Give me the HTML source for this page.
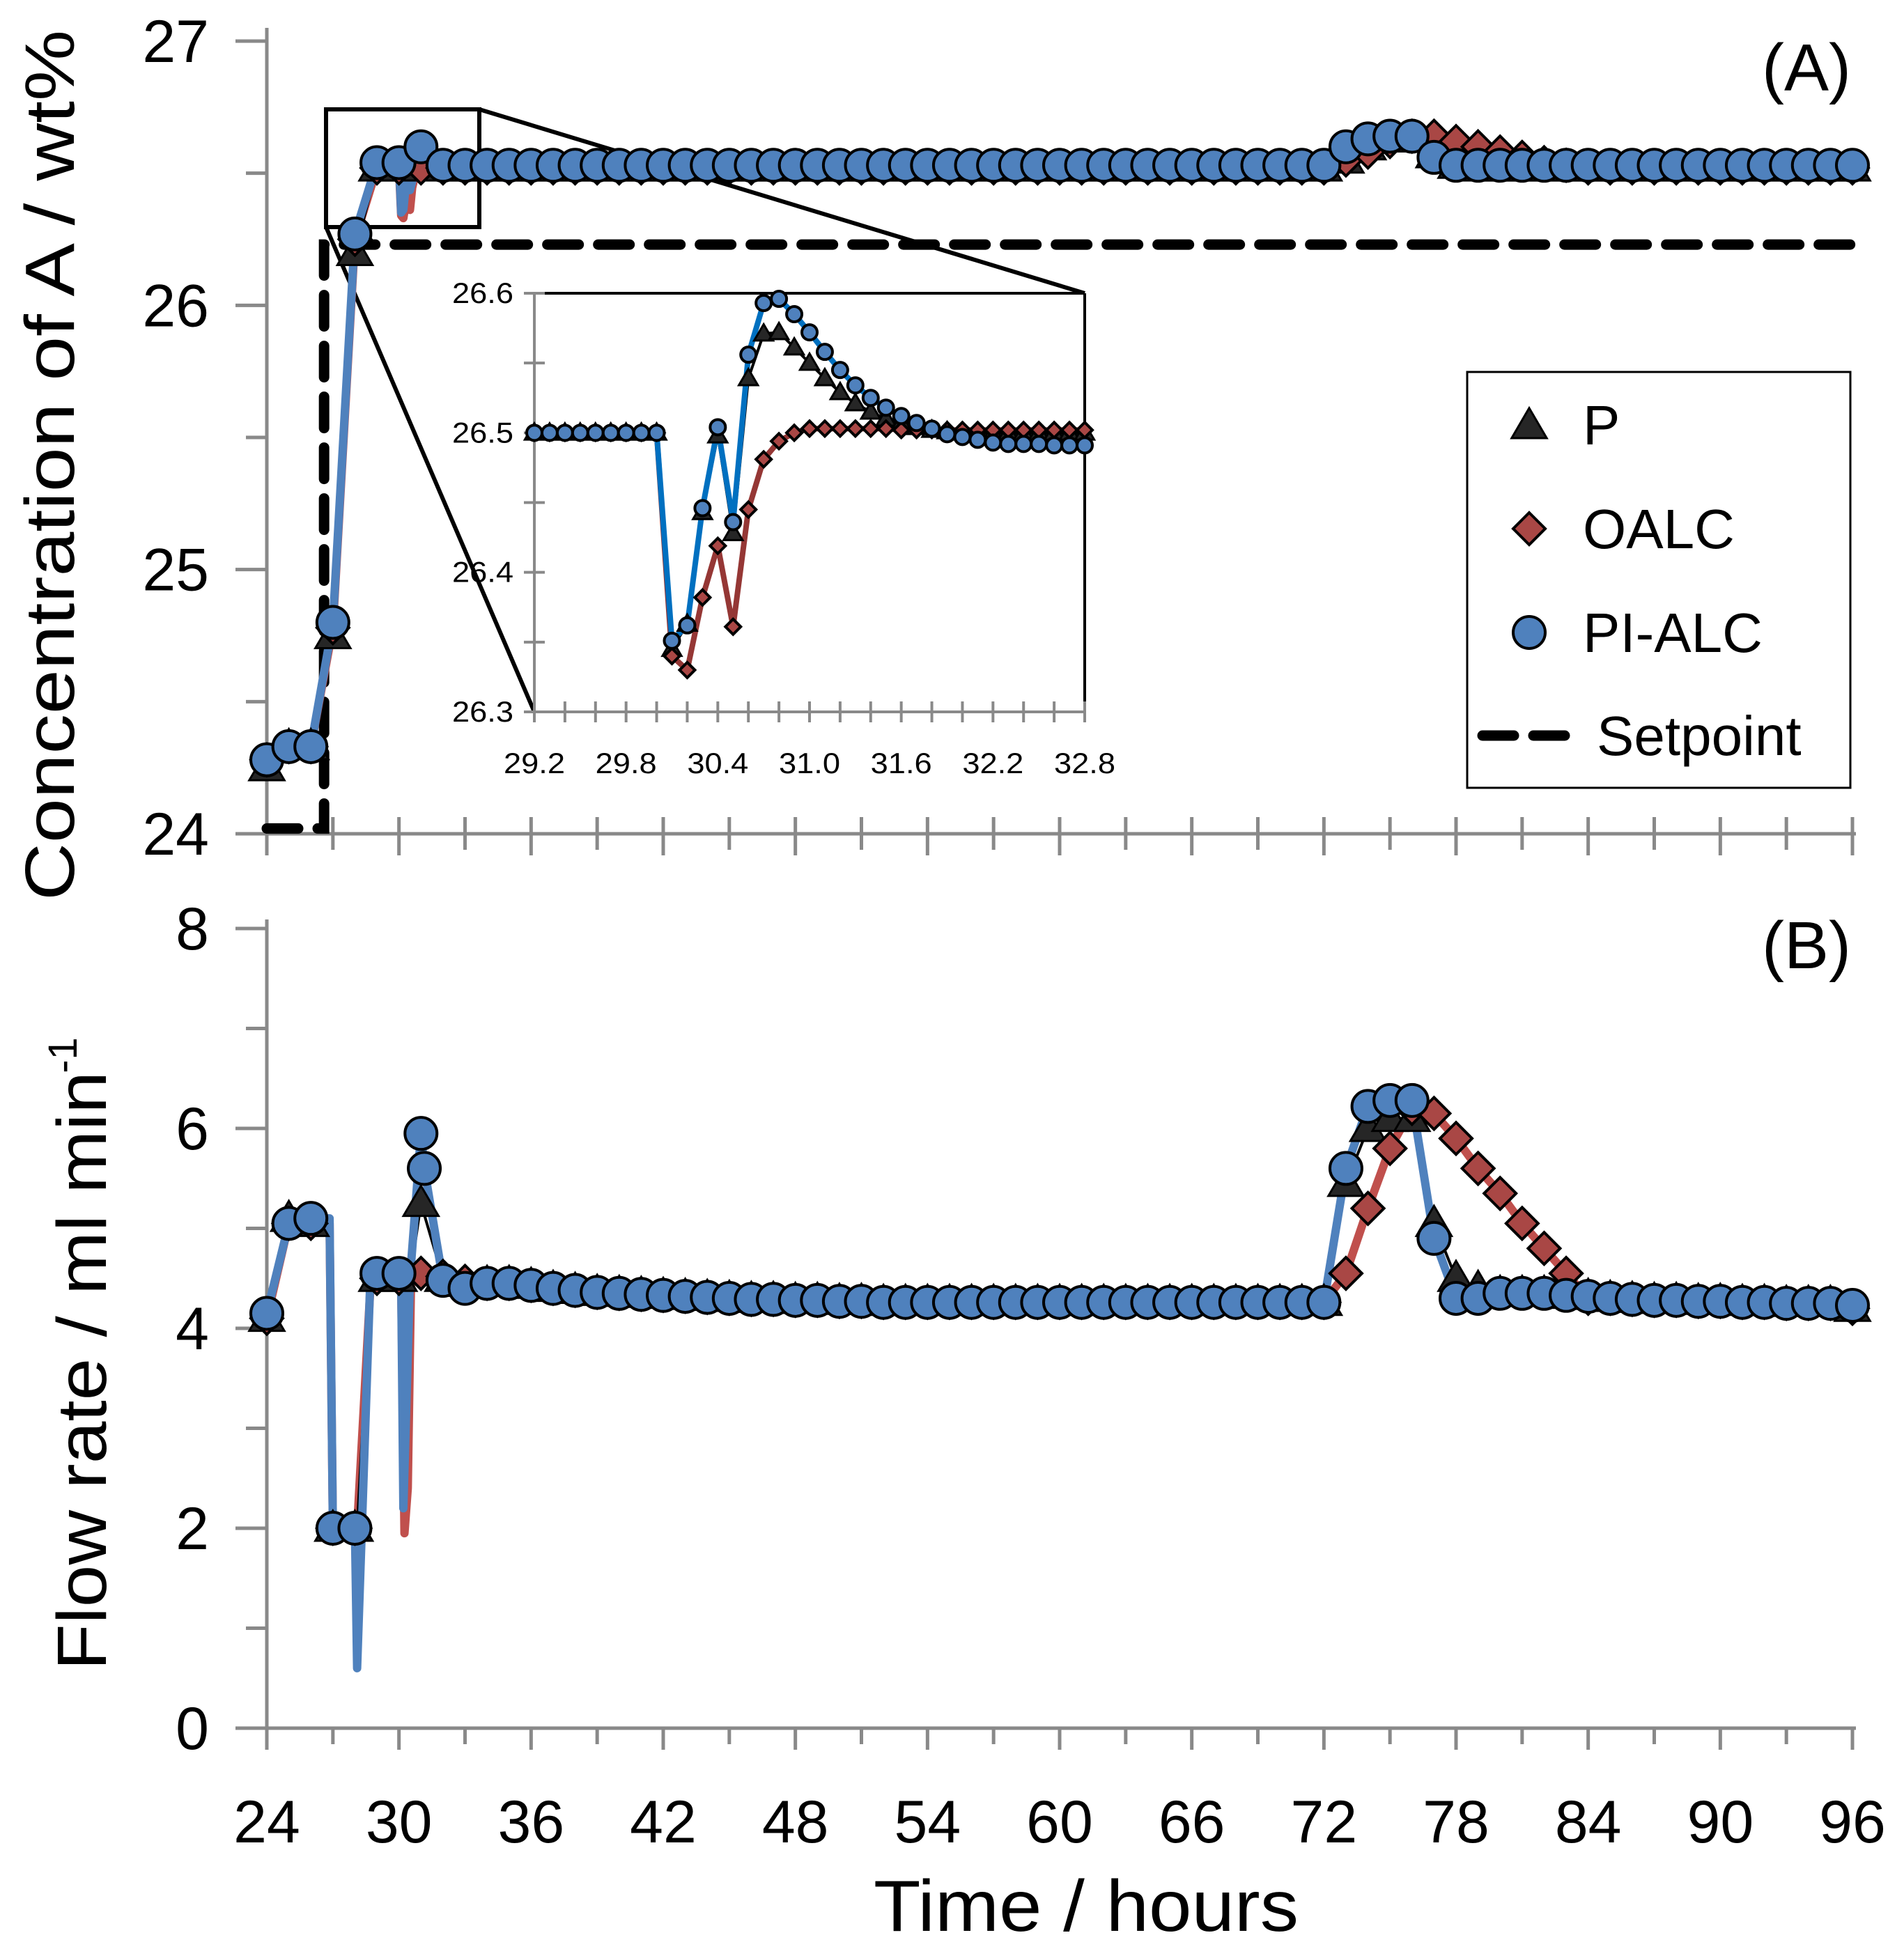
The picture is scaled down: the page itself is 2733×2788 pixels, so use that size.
<!DOCTYPE html>
<html><head><meta charset="utf-8"><style>
html,body{margin:0;padding:0;background:#fff;}
svg{display:block;font-family:"Liberation Sans",sans-serif;}
</style></head><body>
<svg id="chart" width="2733" height="2788" viewBox="0 0 2733 2788" xmlns="http://www.w3.org/2000/svg"></svg>
<script>
// ---------- data ----------
const hours = [];
for (let h = 24; h <= 96; h++) hours.push(h);
const aPI = [24.28,24.33,24.33,24.8,26.27,26.54,26.54,26.6,26.53,
26.53,26.53,26.53,26.53,26.53,26.53,26.53,26.53,26.53,26.53,26.53,26.53,26.53,26.53,26.53,26.53,26.53,26.53,26.53,26.53,
26.53,26.53,26.53,26.53,26.53,26.53,26.53,26.53,26.53,26.53,26.53,26.53,26.53,26.53,26.53,26.53,26.53,26.53,26.53,26.53,
26.6,26.63,26.64,26.64,26.56,26.53,
26.53,26.53,26.53,26.53,26.53,26.53,26.53,26.53,26.53,26.53,26.53,26.53,26.53,26.53,26.53,26.53,26.53,26.53];
const aP = [24.25,24.33,24.33,24.75,26.2,26.52,26.52,26.57,26.52,
26.52,26.52,26.52,26.52,26.52,26.52,26.52,26.52,26.52,26.52,26.52,26.52,26.52,26.52,26.52,26.52,26.52,26.52,26.52,26.52,
26.52,26.52,26.52,26.52,26.52,26.52,26.52,26.52,26.52,26.52,26.52,26.52,26.52,26.52,26.52,26.52,26.52,26.52,26.52,26.52,
26.55,26.6,26.63,26.63,26.57,26.53,
26.52,26.52,26.52,26.52,26.52,26.52,26.52,26.52,26.52,26.52,26.52,26.52,26.52,26.52,26.52,26.52,26.52,26.52];
const aOALC = [24.28,24.33,24.33,24.78,26.25,26.52,26.52,26.52,26.52,
26.52,26.52,26.52,26.52,26.52,26.52,26.52,26.52,26.52,26.52,26.52,26.52,26.52,26.52,26.52,26.52,26.52,26.52,26.52,26.52,
26.52,26.52,26.52,26.52,26.52,26.52,26.52,26.52,26.52,26.52,26.52,26.52,26.52,26.52,26.52,26.52,26.52,26.52,26.52,26.52,
26.55,26.58,26.62,26.64,26.64,26.62,
26.6,26.58,26.56,26.54,26.53,26.52,26.52,26.52,26.52,26.52,26.52,26.52,26.52,26.52,26.52,26.52,26.52,26.52];
const aPIExtraT = [30.1,30.2,30.3,30.4,30.5];
const aPIExtraV = [26.351,26.362,26.446,26.504,26.436];
const aPExtraT = [30.1,30.2,30.3,30.4,30.5];
const aPExtraV = [26.345,26.363,26.443,26.498,26.428];
const aOALCExtraT = [30.1,30.2,30.3,30.4,30.5,30.6,30.7];
const aOALCExtraV = [26.34,26.33,26.382,26.419,26.361,26.445,26.481];
const setpointT = [24,26.6,26.6,96];
const setpointV = [24.02,24.02,26.23,26.23];

const bPI = [4.15,5.05,5.1,2.0,2.0,4.55,4.55,5.95,4.48,4.4,4.45,4.45,4.43,4.4,4.38,4.36,4.35,4.34,4.33,4.32,4.31,4.3,4.29,4.29,4.28,4.28,
4.27,4.27,4.26,4.26,4.26,4.26,4.26,4.26,4.26,4.26,4.26,4.26,4.26,4.26,4.26,4.26,4.26,4.26,4.26,4.26,4.26,4.26,4.26,
5.6,6.22,6.28,6.28,4.9,4.3,4.3,4.35,4.35,4.35,4.33,4.32,4.3,4.29,4.28,4.28,4.27,4.27,4.26,4.26,4.25,4.25,4.25,4.23];
const bP = [4.1,5.1,5.05,2.0,2.0,4.5,4.5,5.25,4.5,4.45,4.45,4.45,4.43,4.4,4.38,4.36,4.35,4.34,4.33,4.32,4.31,4.3,4.29,4.29,4.28,4.28,
4.27,4.27,4.26,4.26,4.26,4.26,4.26,4.26,4.26,4.26,4.26,4.26,4.26,4.26,4.26,4.26,4.26,4.26,4.26,4.26,4.26,4.26,4.26,
5.45,6.0,6.1,6.1,5.05,4.5,4.4,4.35,4.35,4.35,4.33,4.32,4.3,4.29,4.28,4.28,4.27,4.27,4.26,4.26,4.25,4.25,4.25,4.2];
const bOALC = [4.1,5.05,5.05,2.0,2.0,4.5,4.5,4.55,4.52,4.47,4.45,4.45,4.43,4.4,4.38,4.36,4.35,4.34,4.33,4.32,4.31,4.3,4.29,4.29,4.28,4.28,
4.27,4.27,4.26,4.26,4.26,4.26,4.26,4.26,4.26,4.26,4.26,4.26,4.26,4.26,4.26,4.26,4.26,4.26,4.26,4.26,4.26,4.26,4.26,
4.55,5.2,5.8,6.2,6.15,5.9,5.6,5.35,5.05,4.8,4.55,4.3,4.3,4.29,4.28,4.28,4.27,4.27,4.26,4.26,4.25,4.25,4.25,4.2];
const bPIExtraT = [26.85,28.1,28.7,30.1,30.2,30.5,31.15];
const bPIExtraV = [5.1,0.6,4.5,4.5,2.2,4.5,5.6];
const bPIExtraMarkT = [31.15];
const bPIExtraMarkV = [5.6];
const bPExtraT = [26.85,28.1,28.7,30.1,30.25,30.5];
const bPExtraV = [5.05,2.0,4.4,4.45,3.5,4.5];
const bOALCExtraT = [26.85,28.1,28.7,30.1,30.25,30.4,30.55];
const bOALCExtraV = [5.05,2.0,4.4,4.45,1.95,2.4,4.5];

const insetT = [];
for (let i = 0; i <= 36; i++) insetT.push(+(29.2 + i * 0.1).toFixed(1));
const insetPI = [26.5,26.5,26.5,26.5,26.5,26.5,26.5,26.5,26.5,
26.351,26.362,26.446,26.504,26.436,26.556,26.593,26.596,26.585,26.572,26.558,26.545,26.534,26.525,26.518,26.512,26.507,26.503,26.499,26.497,26.495,26.493,26.492,26.492,26.492,26.491,26.491,26.491];
const insetP = [26.5,26.5,26.5,26.5,26.5,26.5,26.5,26.5,26.5,
26.345,26.363,26.443,26.498,26.428,26.539,26.571,26.572,26.561,26.55,26.539,26.529,26.521,26.515,26.51,26.507,26.504,26.502,26.501,26.5,26.5,26.5,26.5,26.5,26.5,26.5,26.5,26.5];
const insetOALC = [26.5,26.5,26.5,26.5,26.5,26.5,26.5,26.5,26.5,
26.34,26.33,26.382,26.419,26.361,26.445,26.481,26.494,26.5,26.503,26.503,26.503,26.503,26.503,26.503,26.502,26.502,26.502,26.502,26.502,26.502,26.502,26.502,26.502,26.502,26.502,26.502,26.502];

const aTickLabels = ["24","25","26","27"];
const bTickLabels = ["0","2","4","6","8"];
const xTickLabels = ["24","30","36","42","48","54","60","66","72","78","84","90","96"];
const insetYLabels = ["26.3","26.4","26.5","26.6"];
const insetXLabels = ["29.2","29.8","30.4","31.0","31.6","32.2","32.8"];

// ---------- axes ----------
const X0=383, X1=2659;
const xs = t => X0 + (t-24)*(X1-X0)/72;
const yA = v => 1197 - (v-24)*(1197-59)/3;
const yB = v => 2481 - v*(2481-1333)/8;
const IX0=767, IX1=1557, IY0=1022, IY1=421;
const ixs = t => IX0 + (t-29.2)*(IX1-IX0)/3.6;
const iys = v => IY0 - (v-26.3)*(IY0-IY1)/0.3;

const svg = document.getElementById('chart');
const NS = 'http://www.w3.org/2000/svg';
function mk(tag, attrs, parent){ const e=document.createElementNS(NS,tag); for(const k in attrs) e.setAttribute(k,attrs[k]); (parent||svg).appendChild(e); return e; }
function txt(s, attrs, parent){ const e=mk('text',attrs,parent); e.textContent=s; return e; }
function merge(t1,v1,t2,v2){ const p=t1.map((t,i)=>[t,v1[i]]).concat(t2.map((t,i)=>[t,v2[i]])); p.sort((a,b)=>a[0]-b[0]); return p; }
const GREY='#898989', BLUE='#4F81BD', RED='#C0504D', REDF='#A94745', TRI='#262626';

function tri(g,x,y,r){ return mk('polygon',{points:`${x},${y-r*1.05} ${x-r*1.05},${y+r*0.75} ${x+r*1.05},${y+r*0.75}`,fill:TRI,stroke:'#000','stroke-width':3},g); }
function dia(g,x,y,r){ return mk('polygon',{points:`${x},${y-r} ${x+r},${y} ${x},${y+r} ${x-r},${y}`,fill:REDF,stroke:'#000','stroke-width':4},g); }
function circ(g,x,y,r){ return mk('circle',{cx:x,cy:y,r:r,fill:BLUE,stroke:'#000','stroke-width':4},g); }

// ---------- panel A axes ----------
const gA = mk('g',{});


mk('line',{x1:X0,y1:40,x2:X0,y2:1197,stroke:GREY,'stroke-width':5},gA);
mk('line',{x1:X0-45,y1:1197,x2:X1+5,y2:1197,stroke:GREY,'stroke-width':5},gA);
for(let i=0;i<=6;i++){ const v=24+i*0.5; const y=yA(v); mk('line',{x1:(i%2==0?X0-45:X0-30),y1:y,x2:X0,y2:y,stroke:GREY,'stroke-width':5},gA); }
aTickLabels.forEach(l=>{ const t=txt(l,{x:300,y:yA(+l)+30,'font-size':86,'text-anchor':'end',fill:'#000'},gA);
   });
for(let h=24;h<=96;h+=3){ const x=xs(h); mk('line',{x1:x,y1:1173,x2:x,y2:(h%6==0?1228:1220),stroke:GREY,'stroke-width':5},gA); }
const tA=txt('Concentration of A / wt%',{x:0,y:0,'font-size':100,transform:'translate(106,668) rotate(-90)','text-anchor':'middle',textLength:1250,lengthAdjust:'spacingAndGlyphs'},gA);
 
const lblA=txt('(A)',{x:2657,y:130,'font-size':96,'text-anchor':'end'},gA);
 

const sp = mk('polyline',{points:setpointT.map((t,i)=>xs(t)+','+yA(setpointV[i])).join(' '),fill:'none',stroke:'#000','stroke-width':15,'stroke-dasharray':'45,28','stroke-linecap':'round'},gA);
 

const zb = mk('rect',{x:468,y:157,width:220,height:169,fill:'none',stroke:'#000','stroke-width':6},gA);
 
mk('line',{x1:688,y1:157,x2:IX1,y2:IY1,stroke:'#000','stroke-width':6},gA);
mk('line',{x1:468,y1:326,x2:IX0,y2:IY0,stroke:'#000','stroke-width':6},gA);

function drawSeries(g, pts, ysf, color, name){
  const gl = mk('g',{},g);
  
  
  mk('polyline',{points:pts.map(p=>xs(p[0])+','+ysf(p[1])).join(' '),fill:'none',stroke:color,'stroke-width':12,'stroke-linejoin':'round','stroke-linecap':'round'},gl);
  return gl;
}
function drawMarkers(g, markT, markV, ysf, xsf, kind, r, name){
  markT.forEach((t,i)=>{ const x=xsf(t), y=ysf(markV[i]); let m;
    if(kind==='tri') m=tri(g,x,y,r); else if(kind==='dia') m=dia(g,x,y,r); else m=circ(g,x,y,r);
      });
}

const linesA = mk('g',{},gA);
drawSeries(linesA, merge(hours,aOALC,aOALCExtraT,aOALCExtraV), yA, RED,'oalc-line-a');
drawSeries(linesA, merge(hours,aP,aPExtraT,aPExtraV), yA, '#000','p-line-a').firstChild.setAttribute('stroke-width',4);
drawSeries(linesA, merge(hours,aPI,aPIExtraT,aPIExtraV), yA, BLUE,'pi-alc-line-a');
drawMarkers(gA, hours, aP, yA, xs, 'tri', 24, 'p-marker-a');
drawMarkers(gA, hours, aOALC, yA, xs, 'dia', 23, 'oalc-marker-a');
drawMarkers(gA, hours, aPI, yA, xs, 'circ', 23, 'pi-alc-marker-a');

// ---------- inset ----------
const gI = mk('g',{});


mk('rect',{x:IX0,y:IY1,width:IX1-IX0,height:IY0-IY1,fill:'#fff'},gI);
mk('line',{x1:IX0,y1:IY1,x2:IX1,y2:IY1,stroke:'#000','stroke-width':4},gI);
mk('line',{x1:IX1,y1:IY1,x2:IX1,y2:IY0,stroke:'#000','stroke-width':4},gI);
mk('line',{x1:IX0,y1:IY1,x2:IX0,y2:IY0,stroke:GREY,'stroke-width':4},gI);
mk('line',{x1:IX0-15,y1:IY0,x2:IX1,y2:IY0,stroke:GREY,'stroke-width':4},gI);
for(let i=0;i<=6;i++){ const y=iys(26.3+i*0.05); mk('line',{x1:IX0-15,y1:y,x2:IX0+15,y2:y,stroke:GREY,'stroke-width':4},gI); }
for(let i=0;i<=18;i++){ const x=ixs(29.2+i*0.2); mk('line',{x1:x,y1:IY0-15,x2:x,y2:IY0+15,stroke:GREY,'stroke-width':4},gI); }
insetYLabels.forEach(l=>{ const t=txt(l,{x:IX0-30,y:iys(+l)+14,'font-size':42,'text-anchor':'end',textLength:88,lengthAdjust:'spacingAndGlyphs'},gI);
   });
insetXLabels.forEach(l=>{ const t=txt(l,{x:ixs(+l),y:1110,'font-size':42,'text-anchor':'middle',textLength:88,lengthAdjust:'spacingAndGlyphs'},gI);
   });
function ipoly(vals,color,w,name){ const p=mk('polyline',{points:insetT.map((t,i)=>ixs(t)+','+iys(vals[i])).join(' '),fill:'none',stroke:color,'stroke-width':w,'stroke-linejoin':'round'},gI);
   }
ipoly(insetOALC,'#953735',8,'inset-oalc-line');
ipoly(insetP,'#000',4,'inset-p-line');
ipoly(insetPI,'#0070C0',8,'inset-pi-alc-line');
drawMarkers(gI, insetT, insetP, iys, ixs, 'tri', 13, 'inset-p-marker');
drawMarkers(gI, insetT, insetOALC, iys, ixs, 'dia', 11, 'inset-oalc-marker');
drawMarkers(gI, insetT, insetPI, iys, ixs, 'circ', 11, 'inset-pi-alc-marker');

// ---------- legend ----------
const gL = mk('g',{});


mk('rect',{x:2106,y:534,width:550,height:597,fill:'#fff',stroke:'#000','stroke-width':3},gL);
const le1=mk('g',{},gL);  
tri(le1,2195,611,24); txt('P',{x:2272,y:638,'font-size':80},le1);
const le2=mk('g',{},gL);  
dia(le2,2195,759,23); txt('OALC',{x:2272,y:787,'font-size':80},le2);
const le3=mk('g',{},gL);  
circ(le3,2195,908,23); txt('PI-ALC',{x:2272,y:936,'font-size':80},le3);
const le4=mk('g',{},gL);  
mk('line',{x1:2128,y1:1056,x2:2262,y2:1056,stroke:'#000','stroke-width':15,'stroke-dasharray':'45,28','stroke-linecap':'round'},le4);
txt('Setpoint',{x:2292,y:1084,'font-size':80},le4);

// ---------- panel B ----------
const gB = mk('g',{});


mk('line',{x1:X0,y1:1320,x2:X0,y2:2481,stroke:GREY,'stroke-width':5},gB);
mk('line',{x1:X0-45,y1:2481,x2:X1+5,y2:2481,stroke:GREY,'stroke-width':5},gB);
for(let i=0;i<=8;i++){ const y=yB(i); mk('line',{x1:(i%2==0?X0-45:X0-30),y1:y,x2:X0,y2:y,stroke:GREY,'stroke-width':5},gB); }
bTickLabels.forEach(l=>{ const t=txt(l,{x:300,y:yB(+l)+30,'font-size':86,'text-anchor':'end'},gB);
   });
for(let h=24;h<=96;h+=3){ const x=xs(h); mk('line',{x1:x,y1:2481,x2:x,y2:(h%6==0?2512:2504),stroke:GREY,'stroke-width':5},gB); }
xTickLabels.forEach(l=>{ const t=txt(l,{x:xs(+l),y:2645,'font-size':86,'text-anchor':'middle'},gB);
   });
const tX=txt('Time / hours',{x:1559,y:2772,'font-size':104,'text-anchor':'middle',textLength:610,lengthAdjust:'spacingAndGlyphs'},gB);
 
const tB=txt('Flow rate / ml min',{x:0,y:0,'font-size':100,transform:'translate(152,1968) rotate(-90)','text-anchor':'middle',textLength:860,lengthAdjust:'spacingAndGlyphs'},gB);
 
const tBs=txt('-1',{x:0,y:0,'font-size':58,transform:'translate(110,1515) rotate(-90)','text-anchor':'middle'},gB);
 
const lblB=txt('(B)',{x:2657,y:1390,'font-size':96,'text-anchor':'end'},gB);
 

const linesB = mk('g',{},gB);
drawSeries(linesB, merge(hours,bOALC,bOALCExtraT,bOALCExtraV), yB, RED,'oalc-line-b');
drawSeries(linesB, merge(hours,bP,bPExtraT,bPExtraV), yB, '#000','p-line-b').firstChild.setAttribute('stroke-width',4);
drawSeries(linesB, merge(hours,bPI,bPIExtraT,bPIExtraV), yB, BLUE,'pi-alc-line-b');
drawMarkers(gB, hours, bP, yB, xs, 'tri', 24, 'p-marker-b');
drawMarkers(gB, hours, bOALC, yB, xs, 'dia', 23, 'oalc-marker-b');
drawMarkers(gB, hours, bPI, yB, xs, 'circ', 23, 'pi-alc-marker-b');
drawMarkers(gB, bPIExtraMarkT, bPIExtraMarkV, yB, xs, 'circ', 23, 'pi-alc-marker-b');
</script>
</body></html>
